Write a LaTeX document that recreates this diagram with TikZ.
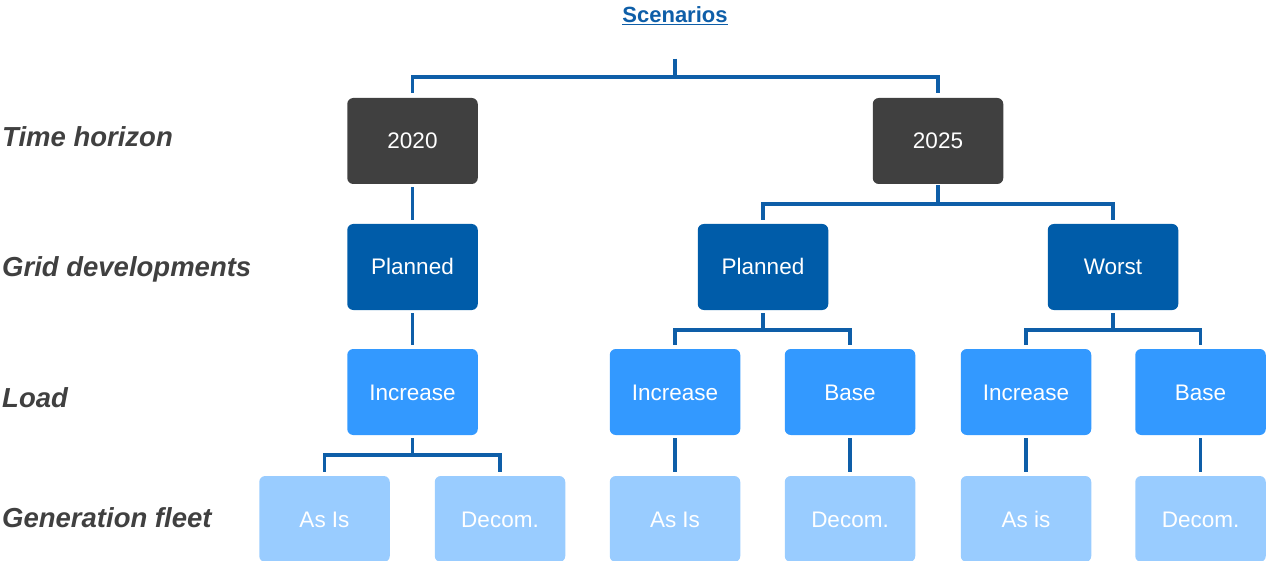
\documentclass[tikz,border=0pt]{standalone}
\usepackage{fontspec}
\setmainfont{Liberation Sans}
\definecolor{horizon}{HTML}{404040}
\definecolor{grid}{HTML}{005CA9}
\definecolor{load}{HTML}{3399FF}
\definecolor{fleet}{HTML}{99CCFF}
\definecolor{linkblue}{HTML}{0E5EA8}
\definecolor{labelgray}{HTML}{404040}

\begin{document}
\begin{tikzpicture}[x=1pt, y=-1pt,
    box/.style={minimum width=130.5pt, minimum height=86pt, rounded corners=6pt, inner sep=0pt, text=white, text height=16pt, text depth=0pt, font=\fontsize{22.5}{27}\selectfont},
    link/.style={line width=3.5pt, color=linkblue, shorten <=3pt, shorten >=4pt},
    level/.style={anchor=base west, inner sep=0pt, text=labelgray, font=\fontsize{27.5}{32}\selectfont\bfseries\itshape}]
    \useasboundingbox (0,0) rectangle (1266,561);
    % title
    \node [anchor=base, inner sep=0pt, text=linkblue, font=\fontsize{22}{26}\selectfont\bfseries] (scen) at (675,22.5) {Scenarios};
    \draw [linkblue, line width=1.5pt] ([yshift=-2pt]scen.base west) -- ([yshift=-2pt]scen.base east);
    % row labels
    \node [level] (lhorizon) at (2,147) {Time horizon};
    \node [level] (lgrid) at (2,277) {Grid developments};
    \node [level] (lload) at (2,407) {Load};
    \node [level] (lfleet) at (2,527) {Generation fleet};
    % boxes
    \node [box, fill=horizon] (y2020) at (412.5,141) {2020};
    \node [box, fill=horizon] (y2025) at (938,141) {2025};
    \node [box, fill=grid] (plan2020) at (412.5,267) {Planned};
    \node [box, fill=grid] (plan2025) at (763,267) {Planned};
    \node [box, fill=grid] (worst2025) at (1113,267) {Worst};
    \node [box, fill=load] (inc2020) at (412.5,392) {Increase};
    \node [box, fill=load] (incplan) at (675,392) {Increase};
    \node [box, fill=load] (baseplan) at (850,392) {Base};
    \node [box, fill=load] (incworst) at (1026,392) {Increase};
    \node [box, fill=load] (baseworst) at (1200.5,392) {Base};
    \node [box, fill=fleet] (asis2020) at (324.5,519) {As Is};
    \node [box, fill=fleet] (decom2020) at (500,519) {Decom.};
    \node [box, fill=fleet] (asisplan) at (675,519) {As Is};
    \node [box, fill=fleet] (decomplan) at (850,519) {Decom.};
    \node [box, fill=fleet] (asisworst) at (1026,519) {As is};
    \node [box, fill=fleet] (decomworst) at (1200.5,519) {Decom.};
    % connectors
    \coordinate (root) at (675,59);
    \draw [link, shorten <=0pt, shorten >=5pt] (root) -- ++(0,18) -| (y2020.north);
    \draw [link, shorten <=0pt, shorten >=5pt] (root) -- ++(0,18) -| (y2025.north);
    \draw [link] (y2020) -- (plan2020);
    \draw [link, shorten <=1pt] (y2025.south) -- ++(0,20) -| (plan2025.north);
    \draw [link, shorten <=1pt] (y2025.south) -- ++(0,20) -| (worst2025.north);
    \draw [link] (plan2020) -- (inc2020);
    \draw [link] (plan2025.south) -- ++(0,20) -| (incplan.north);
    \draw [link] (plan2025.south) -- ++(0,20) -| (baseplan.north);
    \draw [link] (worst2025.south) -- ++(0,20) -| (incworst.north);
    \draw [link] (worst2025.south) -- ++(0,20) -| (baseworst.north);
    \draw [link] (inc2020.south) -- ++(0,20) -| (asis2020.north);
    \draw [link] (inc2020.south) -- ++(0,20) -| (decom2020.north);
    \draw [link] (incplan) -- (asisplan);
    \draw [link] (baseplan) -- (decomplan);
    \draw [link] (incworst) -- (asisworst);
    \draw [link] (baseworst) -- (decomworst);
\end{tikzpicture}
\end{document}
